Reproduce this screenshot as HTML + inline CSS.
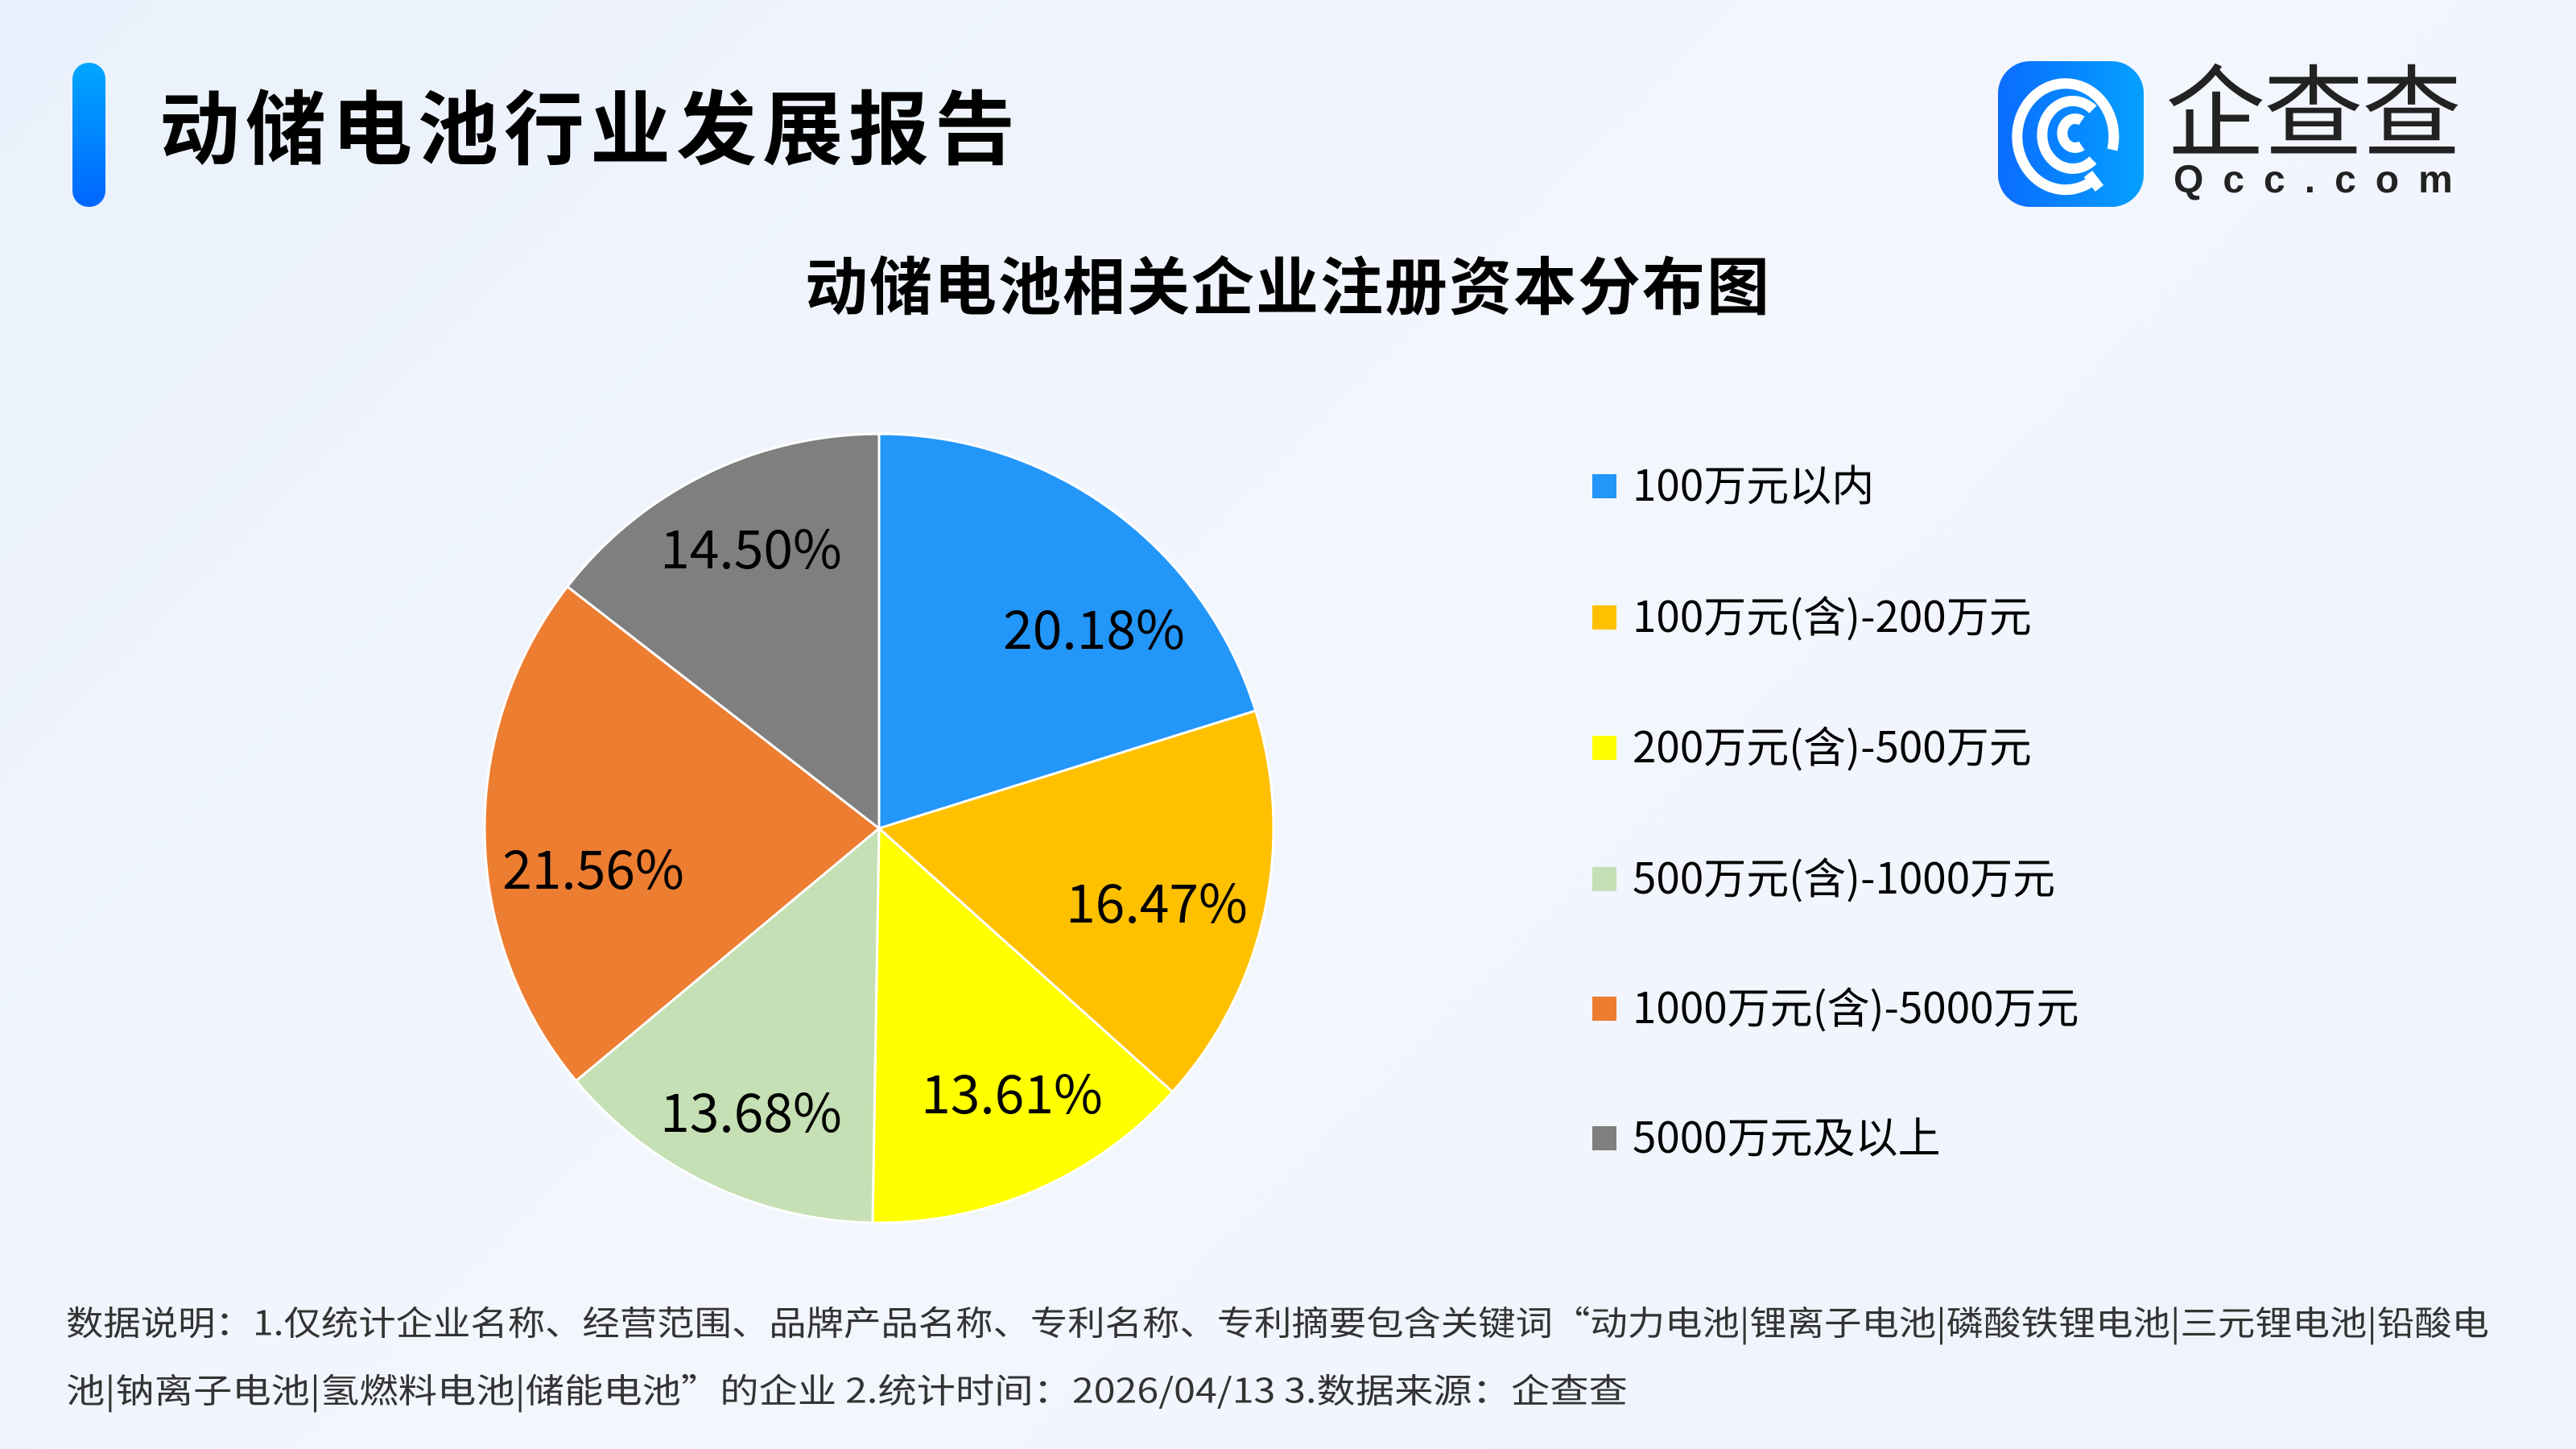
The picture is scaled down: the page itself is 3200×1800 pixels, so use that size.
<!DOCTYPE html>
<html><head><meta charset="utf-8"><style>
html,body{margin:0;padding:0}
body{width:3200px;height:1800px;overflow:hidden;background:linear-gradient(135deg,#eaf1fc 0%,#f3f6fd 50%,#eef3fc 100%);font-family:"Noto Sans CJK SC","Liberation Sans",sans-serif;position:relative}
.a{position:absolute;white-space:nowrap}
</style></head><body>
<div class="a" style="left:90px;top:78px;width:41px;height:179px;border-radius:20px;background:linear-gradient(#00a6ff,#0066ff)"></div>
<div class="a" style="left:198px;top:93px;font-size:100px;font-weight:bold;color:#000;line-height:120px;letter-spacing:7px">动储电池行业发展报告</div>
<div class="a" style="left:2482px;top:76px;width:181px;height:181px;border-radius:40px;background:linear-gradient(90deg,#0a6cff,#05a0ff)">
<svg width="181" height="181" viewBox="0 0 181 181"><g fill="none" stroke="#fff" stroke-width="13" stroke-linecap="butt">
<path d="M118 148 A60 66 0 1 1 142 110"/><path d="M118 123 A38 42 0 1 1 118 60"/><path d="M104 105 A16 18 0 1 1 104 74"/><path d="M112 140 L126 158"/></g></svg></div>
<div class="a" style="left:2690px;top:60px;font-size:124px;color:#222;line-height:140px;letter-spacing:-2px">企查查</div>
<div class="a" style="left:2700px;top:196px;font-size:48px;font-weight:bold;color:#222;letter-spacing:24px;font-family:'Liberation Sans',sans-serif">Qcc.com</div>
<div class="a" style="left:0;width:3200px;top:301px;text-align:center;font-size:78px;font-weight:bold;color:#000;line-height:100px;letter-spacing:2px">动储电池相关企业注册资本分布图</div>
<svg class="a" style="left:0;top:0" width="3200" height="1800">
<g stroke="#fff" stroke-width="3" stroke-linejoin="round">
<path d="M1092 1029 L1092 539 A490 490 0 0 1 1559.7 882.9Z" fill="#2396fa"/>
<path d="M1092 1029 L1559.7 882.9 A490 490 0 0 1 1456.6 1356.4Z" fill="#ffc000"/>
<path d="M1092 1029 L1456.6 1356.4 A490 490 0 0 1 1084 1518.9Z" fill="#ffff00"/>
<path d="M1092 1029 L1084 1518.9 A490 490 0 0 1 715.6 1342.7Z" fill="#c5e0b4"/>
<path d="M1092 1029 L715.6 1342.7 A490 490 0 0 1 704.8 728.7Z" fill="#ed7d31"/>
<path d="M1092 1029 L704.8 728.7 A490 490 0 0 1 1092 539Z" fill="#7f7f7f"/>
</g>
<g font-family="Noto Sans CJK SC, sans-serif" font-size="66" fill="#000" text-anchor="middle" dominant-baseline="central">
<text x="1359" y="778">20.18%</text><text x="1437" y="1118">16.47%</text><text x="1257" y="1355">13.61%</text>
<text x="933" y="1378">13.68%</text><text x="737" y="1076">21.56%</text><text x="933" y="678">14.50%</text>
</g>
<g font-family="Noto Sans CJK SC, sans-serif" font-size="53" fill="#000" dominant-baseline="central">
<rect x="1978" y="589" width="30" height="30" fill="#2396fa"/><text x="2028" y="600">100万元以内</text>
<rect x="1978" y="752" width="30" height="30" fill="#ffc000"/><text x="2028" y="763">100万元(含)-200万元</text>
<rect x="1978" y="914" width="30" height="30" fill="#ffff00"/><text x="2028" y="925">200万元(含)-500万元</text>
<rect x="1978" y="1077" width="30" height="30" fill="#c5e0b4"/><text x="2028" y="1088">500万元(含)-1000万元</text>
<rect x="1978" y="1238" width="30" height="30" fill="#ed7d31"/><text x="2028" y="1249">1000万元(含)-5000万元</text>
<rect x="1978" y="1399" width="30" height="30" fill="#7f7f7f"/><text x="2028" y="1410">5000万元及以上</text>
</g>
<g font-family="Noto Sans CJK SC, sans-serif" font-size="42" fill="#333" dominant-baseline="central">
<text x="82" y="1641" textLength="3010" lengthAdjust="spacingAndGlyphs">数据说明：1.仅统计企业名称、经营范围、品牌产品名称、专利名称、专利摘要包含关键词“动力电池|锂离子电池|磷酸铁锂电池|三元锂电池|铅酸电</text>
<text x="82" y="1725" textLength="1940" lengthAdjust="spacingAndGlyphs">池|钠离子电池|氢燃料电池|储能电池”的企业   2.统计时间：2026/04/13   3.数据来源：企查查</text>
</g>
</svg>
</body></html>
